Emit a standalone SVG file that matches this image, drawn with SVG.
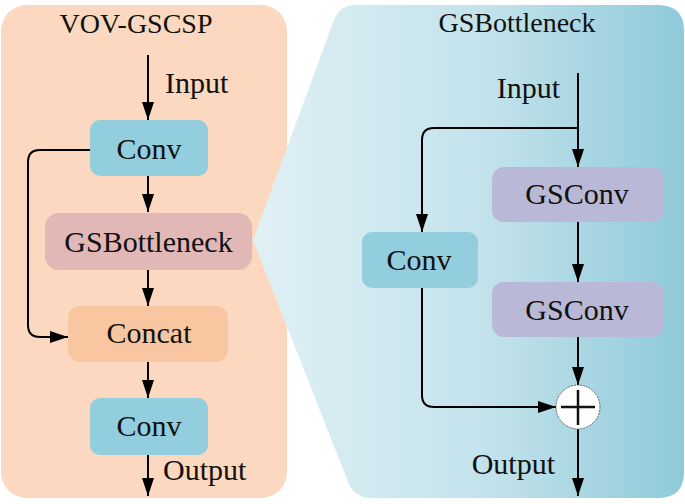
<svg xmlns="http://www.w3.org/2000/svg" width="685" height="504" viewBox="0 0 685 504">
<defs>
<linearGradient id="rg" x1="0" y1="0" x2="1" y2="0">
<stop offset="0" stop-color="#E0F0F5"/>
<stop offset="0.55" stop-color="#C2E2EB"/>
<stop offset="1" stop-color="#8FCADA"/>
</linearGradient>
<marker id="ah" markerUnits="userSpaceOnUse" markerWidth="18" markerHeight="12" refX="18" refY="6" orient="auto">
<path d="M0,0 L18,6 L0,12 z" fill="#000"/>
</marker>
<style>
text{font-family:"Liberation Serif","Times New Roman",serif;fill:#111;}
.t{font-size:28px;}
.l{font-size:30px;}
.c{text-anchor:middle;}
.e{stroke:#000;stroke-width:2;fill:none;marker-end:url(#ah);}
.conv{fill:#92CEDD;}
.gsb{fill:#E2B8B7;}
.cat{fill:#F8C6A0;}
.gsc{fill:#B9B8D6;}
</style>
</defs>
<g id="panel-left">
<rect x="1" y="5" width="286" height="493" rx="26" fill="#FBD8BF"/>
<text class="t c" x="136" y="33">VOV-GSCSP</text>
</g>
<g id="panel-right">
<path d="M253,240 L334,20 Q340,5 356,5 L658,5 Q684,5 684,31 L684,472 Q684,498 658,498 L372,498 Q354,498 348,482 Z" fill="url(#rg)"/>
<text class="t c" x="517" y="32">GSBottleneck</text>
</g>
<g id="connectors">
<path class="e" d="M148,55 L148,120"/>
<path class="e" d="M148,176 L148,212"/>
<path class="e" d="M148,270 L148,306"/>
<path class="e" d="M148,362 L148,398"/>
<path class="e" d="M148,455 L148,496"/>
<path class="e" d="M90,150 L40,150 Q28,150 28,162 L28,325 Q28,337 40,337 L68,337"/>
<path class="e" d="M578,73 L578,167"/>
<path class="e" d="M578,128 L434,128 Q422,128 422,140 L422,232"/>
<path class="e" d="M578,222 L578,282"/>
<path class="e" d="M578,337 L578,385"/>
<path class="e" d="M422,288 L422,395 Q422,407 434,407 L556,407"/>
<path class="e" d="M578,429 L578,496"/>
</g>
<text class="l" x="165" y="93">Input</text>
<text class="l" x="163" y="480">Output</text>
<text class="l" x="560" y="98" text-anchor="end">Input</text>
<text class="l" x="555" y="474" text-anchor="end">Output</text>
<g id="conv1">
<rect class="conv" x="90" y="120" width="118" height="56" rx="10"/>
<text class="l c" x="149" y="159">Conv</text>
</g>
<g id="gsbottleneck">
<rect class="gsb" x="45" y="213" width="207" height="57" rx="14"/>
<text class="l c" x="148.5" y="252">GSBottleneck</text>
</g>
<g id="concat">
<rect class="cat" x="68" y="306" width="160" height="56" rx="12"/>
<text class="l c" x="149" y="343">Concat</text>
</g>
<g id="conv2">
<rect class="conv" x="90" y="398" width="118" height="57" rx="10"/>
<text class="l c" x="149" y="436">Conv</text>
</g>
<g id="gsconv1">
<rect class="gsc" x="492" y="167" width="172" height="55" rx="12"/>
<text class="l c" x="577" y="204">GSConv</text>
</g>
<g id="conv3">
<rect class="conv" x="362" y="232" width="116" height="56" rx="10"/>
<text class="l c" x="419" y="270">Conv</text>
</g>
<g id="gsconv2">
<rect class="gsc" x="492" y="282" width="172" height="55" rx="12"/>
<text class="l c" x="577" y="320">GSConv</text>
</g>
<g id="add">
<circle cx="578" cy="407" r="22" fill="#fff" stroke="#666" stroke-width="1" stroke-dasharray="2,1"/>
<path d="M561,407 L595,407 M578,390 L578,425" stroke="#111" stroke-width="2.5"/>
</g>
</svg>
